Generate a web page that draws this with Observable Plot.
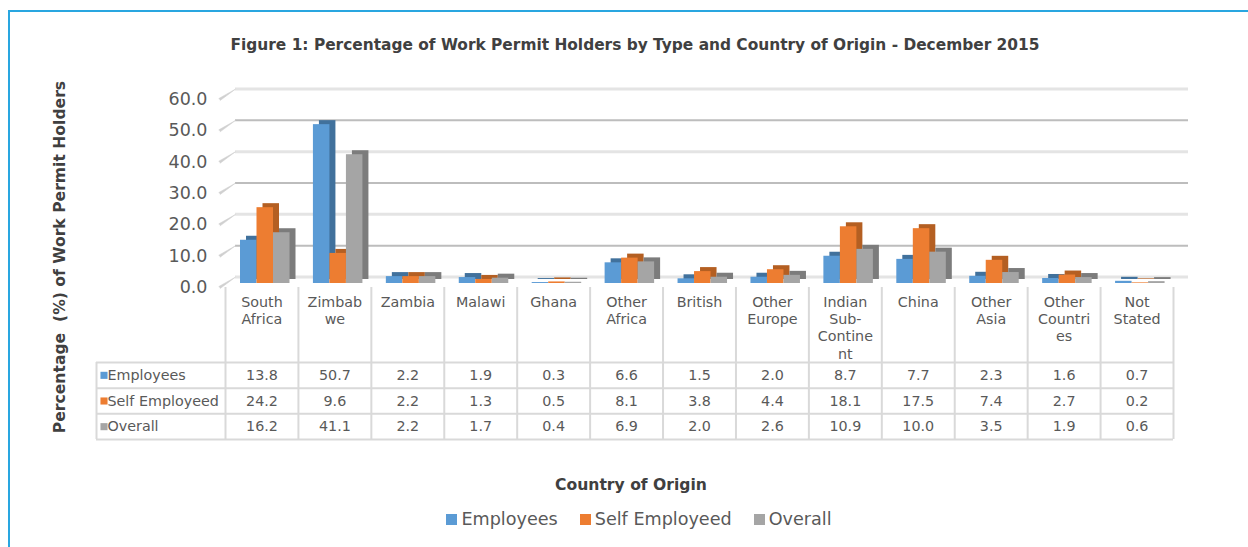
<!DOCTYPE html>
<html>
<head>
<meta charset="utf-8">
<script src="https://cdn.jsdelivr.net/npm/d3@7"></script>
<script src="https://cdn.jsdelivr.net/npm/@observablehq/plot@0.6"></script>
<style>
  html, body { margin: 0; padding: 0; background: #fff; }
  body { font-family: "DejaVu Sans", sans-serif; color: #595959; }
  #wrap { position: relative; width: 1248px; height: 547px; overflow: hidden; }
  #border { position: absolute; left: 8px; top: 10px; width: 1300px; height: 600px;
            border-top: 2px solid #29A6E0; border-left: 2px solid #29A6E0; }
  #title { position: absolute; top: 36px; left: 0; width: 1270px; text-align: center;
           font-weight: bold; font-size: 15.4px; color: #404040; }
  #ytitle { position: absolute; left: -140px; top: 247px; width: 400px; height: 20px; line-height: 20px;
            text-align: center; transform: rotate(-90deg); font-weight: bold; font-size: 15.6px; color: #404040; white-space: pre; }
  #xtitle { position: absolute; top: 476px; left: 0; width: 1262px; text-align: center;
            font-weight: bold; font-size: 15.6px; color: #404040; }
  #legend { position: absolute; top: 509px; left: 0; width: 1278px; text-align: center; font-size: 17.6px; color: #595959; }
  #legend span.item { margin: 0 11px; white-space: nowrap; }
  #legend span.sw { display: inline-block; width: 11px; height: 11px; margin-right: 4px; vertical-align: 0px; }
  #chart { position: absolute; left: 0; top: 0; }
  #table { position: absolute; left: 0; top: 283px; }
  svg { overflow: visible; }
</style>
</head>
<body>
<div id="wrap">
  <div id="border"></div>
  <div id="title">Figure 1: Percentage of Work Permit Holders by Type and Country of Origin -  December 2015</div>
  <div id="ytitle">Percentage  (%) of Work Permit Holders</div>
  <div id="chart"></div>
  <div id="table"></div>
  <div id="xtitle">Country of Origin</div>
  <div id="legend"></div>
</div>
<script>
// ---- data ----
const countries = ["South\nAfrica", "Zimbab\nwe", "Zambia", "Malawi", "Ghana", "Other\nAfrica", "British",
  "Other\nEurope", "Indian\nSub-\nContine\nnt", "China", "Other\nAsia", "Other\nCountri\nes", "Not\nStated"];
const employees    = [13.8, 50.7, 2.2, 1.9, 0.3, 6.6, 1.5, 2.0, 8.7, 7.7, 2.3, 1.6, 0.7];
const selfEmployed = [24.2,  9.6, 2.2, 1.3, 0.5, 8.1, 3.8, 4.4, 18.1, 17.5, 7.4, 2.7, 0.2];
const overall      = [16.2, 41.1, 2.2, 1.7, 0.4, 6.9, 2.0, 2.6, 10.9, 10.0, 3.5, 1.9, 0.6];
const seriesNames  = ["Employees", "Self Employeed", "Overall"];
const yTicks = [0, 10, 20, 30, 40, 50, 60];

// ---- styling ----
const seriesValues = [employees, selfEmployed, overall];
const frontColors = ["#5B9BD5", "#ED7D31", "#A5A5A5"];
const sideColors  = ["#41719C", "#B45F22", "#7C7C7C"];
const textColor = "#595959";
const W = 1248, ML = 225, MR = 75;
const bw = (W - ML - MR) / countries.length;
const barW = 16.5;
const barStart = [15, 31.5, 48];

const fronts = [], sides = [];
seriesValues.forEach((vals, k) => {
  const opts = {x: countries, y: vals, insetLeft: barStart[k], insetRight: bw - barStart[k] - barW};
  sides.push(Plot.barY(vals, {...opts, dx: 6, dy: -4, fill: sideColors[k]}));
  fronts.push(Plot.barY(vals, {...opts, fill: frontColors[k]}));
});

const chart = Plot.plot({
  width: W, height: 287,
  marginTop: 95, marginBottom: 4, marginLeft: ML, marginRight: MR,
  style: {fontFamily: "DejaVu Sans", background: "transparent", overflow: "visible"},
  x: {type: "band", domain: countries, padding: 0, round: false, axis: null},
  y: {domain: [0, 60], axis: null},
  marks: [
    Plot.ruleY(yTicks.filter(d => d % 20 === 0), {y: d => d, stroke: "#E4E4E4", strokeWidth: 3, dx: 10, dy: -6.5, insetRight: -5}),
    Plot.ruleY(yTicks.filter(d => d % 20 !== 0), {y: d => d, stroke: "#BDBDBD", strokeWidth: 2, dx: 10, dy: -6.5, insetRight: -5}),
    Plot.vector(yTicks, {y: d => d, frameAnchor: "left", dx: -6, dy: 4, length: 19, rotate: 57, anchor: "start",
      shape: "spike", r: 1.2, fill: "#D0D0D0", stroke: "#D0D0D0", strokeWidth: 0.5}),
    Plot.text(yTicks, {y: d => d, text: d => d.toFixed(1), frameAnchor: "left", textAnchor: "end",
      dx: -18, dy: 4, fontSize: 17.5, fill: textColor}),
    ...sides,
    ...fronts
  ]
});
document.getElementById("chart").appendChild(chart);

// ---- data table ----
const cells = seriesNames.flatMap((s, k) => countries.map((c, i) => ({country: c, row: k, value: seriesValues[k][i]})));
const gridColor = "#D9D9D9";
const table = Plot.plot({
  width: W, height: 160,
  marginTop: 79, marginBottom: 4, marginLeft: ML, marginRight: MR,
  style: {fontFamily: "DejaVu Sans", background: "transparent", overflow: "visible"},
  x: {type: "point", domain: countries, padding: 0.5, round: false, axis: null},
  y: {domain: [0, seriesNames.length], reverse: true, axis: null},
  marks: [
    Plot.ruleY(d3.range(seriesNames.length + 1), {y: d => d, stroke: gridColor, strokeWidth: 2, insetLeft: -129}),
    Plot.ruleX(countries, {x: d => d, dx: -bw / 2, insetTop: -75, stroke: gridColor, strokeWidth: 2}),
    Plot.ruleX([countries[countries.length - 1]], {x: d => d, dx: bw / 2, insetTop: -75, stroke: gridColor, strokeWidth: 2}),
    Plot.ruleX([countries[0]], {x: d => d, dx: -bw / 2 - 129, stroke: gridColor, strokeWidth: 2}),
    Plot.text(countries, {x: d => d, text: d => d, frameAnchor: "top", dy: -68, lineAnchor: "top",
      lineHeight: 1.21, fontSize: 14.3, fill: textColor}),
    Plot.text(cells, {x: "country", y: d => d.row + 0.5, text: d => d.value.toFixed(1), fontSize: 14.3, fill: textColor}),
    Plot.dot(seriesNames, {y: (d, i) => i + 0.5, frameAnchor: "left", dx: -121.5, symbol: "square", r: 4,
      fill: (d, i) => frontColors[i], stroke: "none"}),
    Plot.text(seriesNames, {y: (d, i) => i + 0.5, text: d => d, frameAnchor: "left", textAnchor: "start",
      dx: -118, fontSize: 14.3, fill: textColor})
  ]
});
document.getElementById("table").appendChild(table);

// ---- legend ----
const legend = document.getElementById("legend");
seriesNames.forEach((s, k) => {
  const item = document.createElement("span");
  item.className = "item";
  const sw = document.createElement("span");
  sw.className = "sw";
  sw.style.background = frontColors[k];
  item.appendChild(sw);
  item.appendChild(document.createTextNode(s));
  legend.appendChild(item);
});
</script>
</body>
</html>
